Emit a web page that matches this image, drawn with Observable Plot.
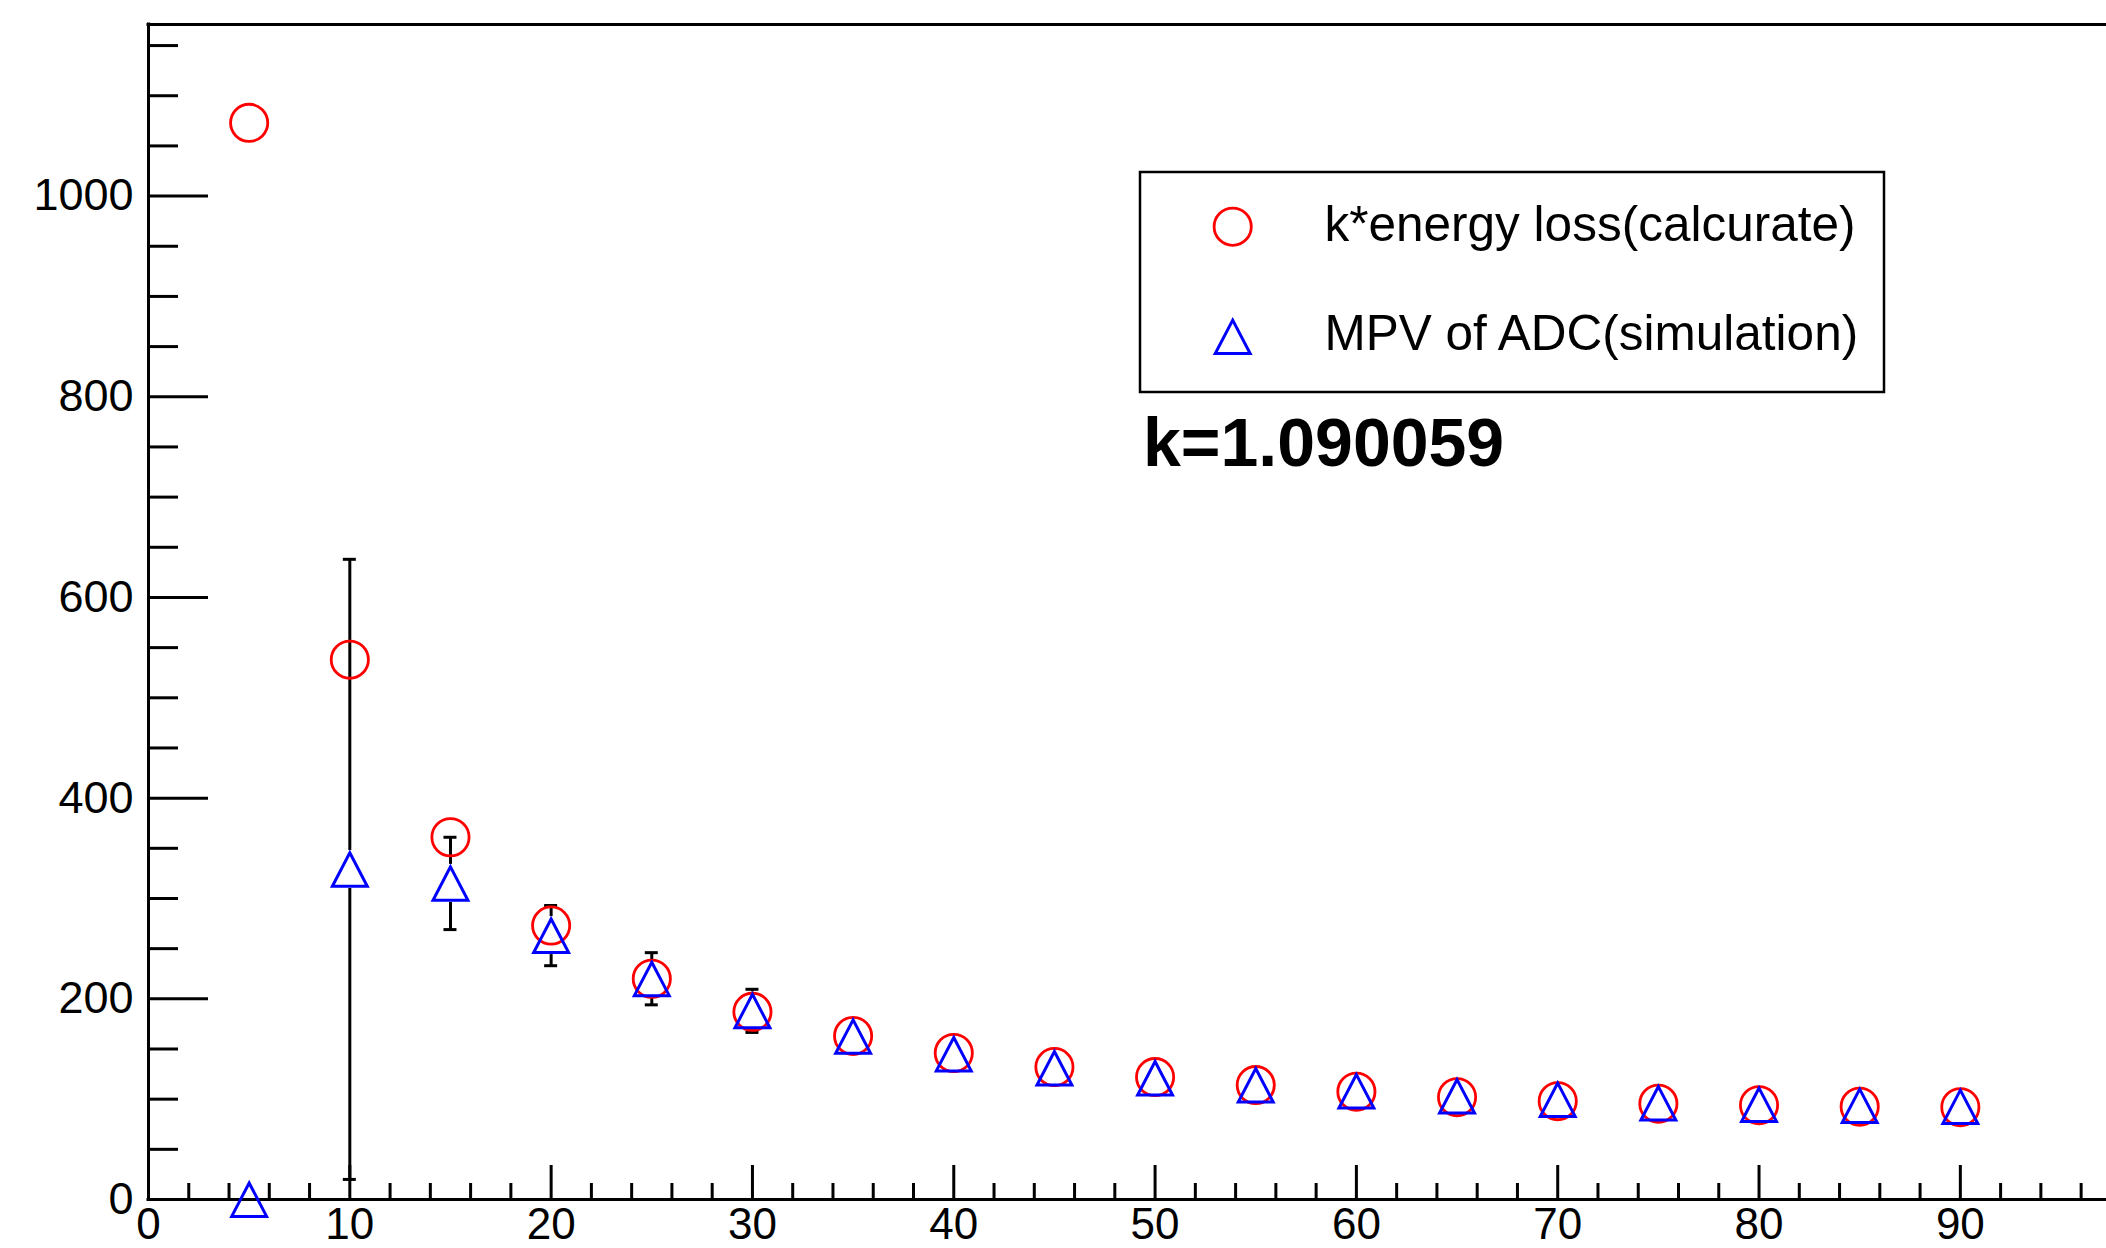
<!DOCTYPE html>
<html>
<head>
<meta charset="utf-8">
<script src="https://cdn.jsdelivr.net/npm/d3@7"></script>
<script src="https://cdn.jsdelivr.net/npm/@observablehq/plot@0.6"></script>
<style>
html, body { margin: 0; padding: 0; background: #fff; overflow: hidden; }
#chart { position: relative; width: 2106px; height: 1248px; }
</style>
</head>
<body>
<div id="chart"></div>
<script>
// ---- data ----
const thickness   = [5, 10, 15, 20, 25, 30, 35, 40, 45, 50, 55, 60, 65, 70, 75, 80, 85, 90];
const energyLoss  = [1073, 538, 361, 273, 220, 187, 163, 146, 132, 122, 114, 107.5, 102, 98, 95.5, 94, 92.5, 92];
const mpvADC      = [0, 329, 315, 263, 220, 188, 162.5, 145, 131, 121, 114, 108, 103, 99.5, 96, 94.5, 93.5, 92.5];
const mpvError    = [null, 309, 46, 30, 26, 21.5, null, null, null, null, null, null, null, null, null, null, null, null];
const seriesNames = ["k*energy loss(calcurate)", "MPV of ADC(simulation)"];
const kLabel      = "k=1.090059";
const xTickLabels = [0, 10, 20, 30, 40, 50, 60, 70, 80, 90];
const yTickLabels = [0, 200, 400, 600, 800, 1000];
const xDomain = [0, 97.26];
const yDomain = [0, 1171];

// ---- derived tables ----
const xMinor = d3.range(0, 97, 2).filter(v => v % 10 !== 0);
const yMinor = d3.range(50, 1171, 50).filter(v => v % 200 !== 0);
const rows = thickness.map((t, i) => ({t, loss: energyLoss[i], mpv: mpvADC[i], err: mpvError[i]}));
const errRows = rows.filter(d => d.err != null && d.err > 0);

// ---- styling ----
const W = 2106, H = 1248;
const mL = 148, mR = 0, mT = 24, mB = 49;
const innerW = W - mL - mR, innerH = H - mT - mB;
const RED = "#ff0000", BLUE = "#0000ff";
const gap = 19;

const triangle = {
  draw(ctx, size) {
    const r = Math.sqrt(size / Math.PI);
    ctx.moveTo(0, -0.92 * r);
    ctx.lineTo(0.97 * r, 0.94 * r);
    ctx.lineTo(-0.97 * r, 0.94 * r);
    ctx.closePath();
  }
};

const plot = Plot.plot({
  width: W, height: H,
  marginLeft: mL, marginRight: mR, marginTop: mT, marginBottom: mB,
  style: {fontFamily: "'Liberation Sans', Arial, Helvetica, sans-serif", fontSize: "45px", background: "white", color: "black", overflow: "visible"},
  x: {domain: xDomain, label: null},
  y: {domain: yDomain, label: null},
  marks: [
    // axis frame (left, bottom, top)
    Plot.ruleX([0], {stroke: "black", strokeWidth: 3, strokeLinecap: "square"}),
    Plot.ruleY([yDomain[0]], {stroke: "black", strokeWidth: 3, strokeLinecap: "square"}),
    Plot.ruleY([yDomain[1]], {stroke: "black", strokeWidth: 3, strokeLinecap: "square"}),
    // inward ticks
    Plot.ruleX(xTickLabels, {x: d => d, insetTop: innerH - 34, stroke: "black", strokeWidth: 3}),
    Plot.ruleX(xMinor, {x: d => d, insetTop: innerH - 16, stroke: "black", strokeWidth: 3}),
    Plot.ruleY(yTickLabels, {y: d => d, insetRight: innerW - 60, stroke: "black", strokeWidth: 3}),
    Plot.ruleY(yMinor, {y: d => d, insetRight: innerW - 30, stroke: "black", strokeWidth: 3}),
    // tick labels
    Plot.axisX({ticks: xTickLabels, tickSize: 0, tickPadding: 8, tickFormat: d3.format("d"), fontSize: 44, label: null}),
    Plot.axisY({ticks: yTickLabels, tickSize: 0, tickPadding: 15, tickFormat: d3.format("d"), fontSize: 45, label: null}),
    // error bars (with gap around the marker)
    Plot.ruleX(errRows, {x: "t", y1: d => d.mpv + d.err, y2: "mpv", insetBottom: gap, stroke: "black", strokeWidth: 3}),
    Plot.ruleX(errRows, {x: "t", y1: "mpv", y2: d => d.mpv - d.err, insetTop: gap, stroke: "black", strokeWidth: 3}),
    Plot.ruleY(errRows, {x1: "t", x2: "t", y: d => d.mpv + d.err, insetLeft: -6.5, insetRight: -6.5, stroke: "black", strokeWidth: 3}),
    Plot.ruleY(errRows, {x1: "t", x2: "t", y: d => d.mpv - d.err, insetLeft: -6.5, insetRight: -6.5, stroke: "black", strokeWidth: 3}),
    // series
    Plot.dot(rows, {x: "t", y: "loss", r: 18.6, stroke: RED, strokeWidth: 2.8, fill: "none"}),
    Plot.dot(rows, {x: "t", y: "mpv", r: 18, symbol: triangle, stroke: BLUE, strokeWidth: 3, fill: "none"})
  ]
});

// ---- legend and annotation ----
const svg = d3.select(plot);
const lg = svg.append("g").attr("text-anchor", "start");
lg.append("rect")
  .attr("x", 1140).attr("y", 172).attr("width", 744).attr("height", 220)
  .attr("fill", "white").attr("stroke", "black").attr("stroke-width", 2.5);
lg.append("circle")
  .attr("cx", 1232.7).attr("cy", 226.7).attr("r", 18.6)
  .attr("fill", "none").attr("stroke", RED).attr("stroke-width", 2.8);
lg.append("path")
  .attr("transform", "translate(1232.7,336.7)")
  .attr("d", d3.symbol(triangle, 18 * 18 * Math.PI)())
  .attr("fill", "none").attr("stroke", BLUE).attr("stroke-width", 3);
lg.selectAll("text.lab").data(seriesNames).join("text")
  .attr("class", "lab")
  .attr("x", 1324.5).attr("y", (d, i) => i === 0 ? 240.7 : 350)
  .attr("font-size", 49.5).attr("fill", "black")
  .text(d => d);
lg.append("text")
  .attr("x", 1143).attr("y", 466)
  .attr("font-size", 68).attr("font-weight", "bold").attr("fill", "black")
  .text(kLabel);

document.getElementById("chart").appendChild(plot);
</script>
</body>
</html>
